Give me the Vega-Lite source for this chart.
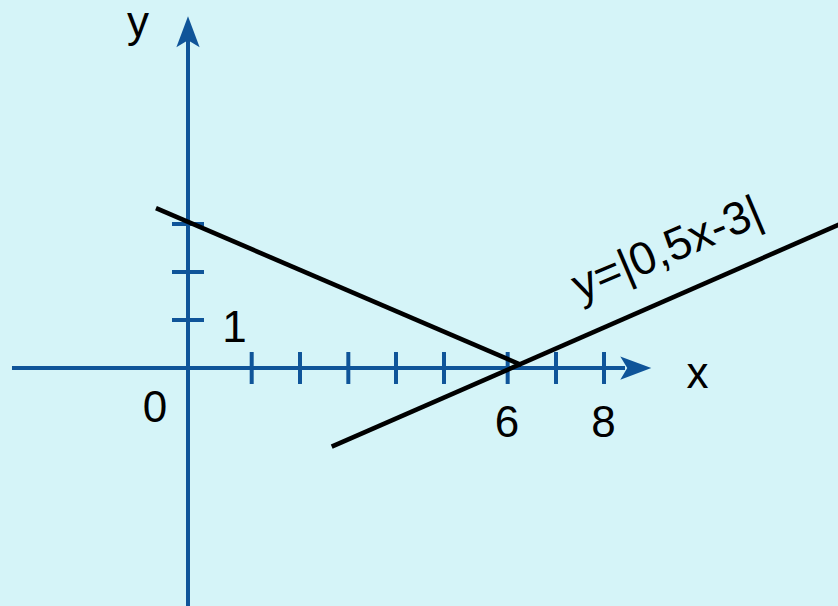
{
  "$schema": "https://vega.github.io/schema/vega-lite/v6.json",
  "width": 838,
  "height": 606,
  "padding": 0,
  "autosize": {"type": "none"},
  "background": "#d5f4f8",
  "config": {"view": {"stroke": null}},
  "encoding": {
    "x": {"field": "x", "type": "quantitative", "axis": null,
          "scale": {"domain": [-3.9167, 13.5417], "nice": false, "zero": false}},
    "y": {"field": "y", "type": "quantitative", "axis": null,
          "scale": {"domain": [-4.9583, 7.6667], "nice": false, "zero": false}}
  },
  "layer": [
    {
      "data": {"values": [
        {"part": "x-axis", "x": -3.667, "y": 0, "x2": 9.104, "y2": 0},
        {"part": "y-axis", "x": 0, "y": -5.2, "x2": 0, "y2": 6.833},
        {"part": "xtick", "x": 1.327, "y": -0.333, "x2": 1.327, "y2": 0.333},
        {"part": "xtick", "x": 2.333, "y": -0.333, "x2": 2.333, "y2": 0.333},
        {"part": "xtick", "x": 3.34, "y": -0.333, "x2": 3.34, "y2": 0.333},
        {"part": "xtick", "x": 4.333, "y": -0.333, "x2": 4.333, "y2": 0.333},
        {"part": "xtick", "x": 5.333, "y": -0.333, "x2": 5.333, "y2": 0.333},
        {"part": "xtick", "x": 6.66, "y": -0.333, "x2": 6.66, "y2": 0.333},
        {"part": "xtick", "x": 7.667, "y": -0.333, "x2": 7.667, "y2": 0.333},
        {"part": "xtick", "x": 8.667, "y": -0.333, "x2": 8.667, "y2": 0.333},
        {"part": "ytick", "x": -0.333, "y": 1, "x2": 0.333, "y2": 1},
        {"part": "ytick", "x": -0.333, "y": 2, "x2": 0.333, "y2": 2},
        {"part": "ytick", "x": -0.333, "y": 3, "x2": 0.333, "y2": 3}
      ]},
      "mark": {"type": "rule", "color": "#0f5499", "strokeWidth": 4},
      "encoding": {
        "x2": {"field": "x2"},
        "y2": {"field": "y2"}
      }
    },
    {
      "data": {"values": [
        {"x": 9.329, "y": 0, "shape": "M1,0L-1,-0.75L-0.55,0L-1,0.75Z"},
        {"x": 0, "y": 7.006, "shape": "M0,-1L0.75,1L0,0.55L-0.75,1Z"}
      ]},
      "mark": {"type": "point", "filled": true, "color": "#0f5499", "opacity": 1, "size": 961, "strokeWidth": 0},
      "encoding": {
        "shape": {"field": "shape", "type": "nominal", "scale": null}
      }
    },
    {
      "data": {"values": [
        {"piece": "left", "x": -0.667, "y": 3.33, "x2": 6.948, "y2": 0.0625},
        {"piece": "right", "x": 2.994, "y": -1.64, "x2": 13.6, "y2": 3.004}
      ]},
      "mark": {"type": "rule", "color": "#000000", "strokeWidth": 4.6},
      "encoding": {
        "x2": {"field": "x2"},
        "y2": {"field": "y2"}
      }
    },
    {
      "data": {"values": [
        {"label": "y", "x": -1.042, "y": 6.896},
        {"label": "1", "x": 0.969, "y": 0.548},
        {"label": "0", "x": -0.6875, "y": -1.119},
        {"label": "6", "x": 6.646, "y": -1.431},
        {"label": "8", "x": 8.656, "y": -1.431},
        {"label": "x", "x": 10.615, "y": -0.417}
      ]},
      "mark": {"type": "text", "font": "Liberation Sans", "fontSize": 44, "color": "#000000", "align": "center", "baseline": "alphabetic"},
      "encoding": {
        "text": {"field": "label"}
      }
    },
    {
      "data": {"values": [
        {"label": "y=|0,5x-3|", "x": 10.1, "y": 2.2}
      ]},
      "mark": {"type": "text", "font": "Liberation Sans", "fontSize": 46, "color": "#000000", "align": "center", "baseline": "alphabetic", "angle": -23},
      "encoding": {
        "text": {"field": "label"}
      }
    }
  ]
}
